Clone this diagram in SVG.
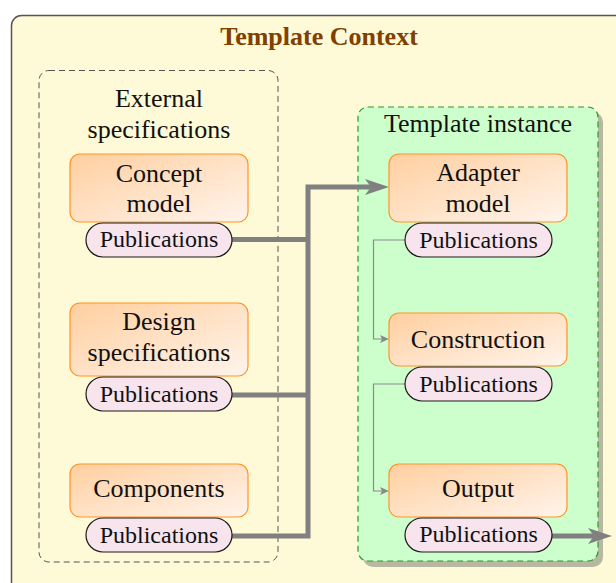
<svg xmlns="http://www.w3.org/2000/svg" width="616" height="583" viewBox="0 0 616 583">
<style>
text{font-family:"Liberation Serif","Times New Roman",serif;fill:#111;text-anchor:middle}
.lbl{font-size:26px}
.pub{font-size:24px}
.title{font-size:26px;font-weight:bold;fill:#7f4000}
.box{fill:url(#og);stroke:#ff9326;stroke-width:1.2}
.pill{fill:#f8e4ec;stroke:#1a1a1a;stroke-width:1.2}
.thick{fill:none;stroke:#808080;stroke-width:5}
.thin{fill:none;stroke:#8a8a8a;stroke-width:1.2}
</style>
<defs>
<linearGradient id="og" x1="0" y1="0" x2="1" y2="1">
<stop offset="0" stop-color="#ffcf9f"/>
<stop offset="1" stop-color="#fff4ec"/>
</linearGradient>
<marker id="ah" viewBox="0 0 24 16" markerWidth="24" markerHeight="16" refX="6" refY="8" markerUnits="userSpaceOnUse" orient="auto">
<path d="M0,0 L24,8 L0,16 L6,8 Z" fill="#808080"/>
</marker>
<marker id="as" viewBox="0 0 9 8" markerWidth="9" markerHeight="8" refX="2" refY="4" markerUnits="userSpaceOnUse" orient="auto">
<path d="M0,0 L9,4 L0,8 L2,4 Z" fill="#8a8a8a"/>
</marker>
</defs>
<rect x="0" y="0" width="616" height="583" fill="#ffffff"/>
<g id="context">
<rect x="11.5" y="15.5" width="620" height="590" rx="10" fill="#fef9d6" stroke="#555" stroke-width="1.5"/>
<text class="title" x="319" y="45">Template Context</text>
</g>
<g id="external">
<rect x="39" y="70.5" width="239" height="491.5" rx="10" fill="none" stroke="#555" stroke-width="1" stroke-dasharray="6,4"/>
<text class="lbl" x="159" y="107">External</text>
<text class="lbl" x="159" y="138">specifications</text>
</g>
<g id="instance">
<rect x="363" y="112" width="240" height="455" rx="10" fill="#b8b8a2"/>
<rect x="358" y="107" width="240" height="454" rx="10" fill="#ccffcc" stroke="#2a9a2a" stroke-width="1.2" stroke-dasharray="6,4"/>
<text class="lbl" x="478" y="132">Template instance</text>
</g>
<g id="connectors">
<path class="thick" d="M232,536 H308 V187 H371" marker-end="url(#ah)"/>
<path class="thick" d="M232,239.5 H308"/>
<path class="thick" d="M232,395 H308"/>
<path class="thick" d="M551,536 H594" marker-end="url(#ah)"/>
<path class="thin" d="M405,240 H373.5 V339 H382" marker-end="url(#as)"/>
<path class="thin" d="M405,384 H373.5 V491 H382" marker-end="url(#as)"/>
</g>
<g id="concept">
<rect class="box" x="70" y="154" width="178" height="68" rx="10"/>
<text class="lbl" x="159" y="182">Concept</text>
<text class="lbl" x="159" y="212">model</text>
</g>
<g id="concept-pub">
<rect class="pill" x="86" y="223" width="146" height="34" rx="17"/>
<text class="pub" x="159" y="247">Publications</text>
</g>
<g id="design">
<rect class="box" x="70" y="303" width="178" height="73" rx="10"/>
<text class="lbl" x="159" y="330">Design</text>
<text class="lbl" x="159" y="361">specifications</text>
</g>
<g id="design-pub">
<rect class="pill" x="86" y="377" width="146" height="34" rx="17"/>
<text class="pub" x="159" y="402">Publications</text>
</g>
<g id="components">
<rect class="box" x="70" y="464" width="178" height="53" rx="10"/>
<text class="lbl" x="159" y="497">Components</text>
</g>
<g id="components-pub">
<rect class="pill" x="86" y="518" width="146" height="34" rx="17"/>
<text class="pub" x="159" y="543">Publications</text>
</g>
<g id="adapter">
<rect class="box" x="389" y="154" width="178" height="68" rx="10"/>
<text class="lbl" x="478" y="181">Adapter</text>
<text class="lbl" x="478" y="212">model</text>
</g>
<g id="adapter-pub">
<rect class="pill" x="405" y="223" width="147" height="34" rx="17"/>
<text class="pub" x="478.5" y="248">Publications</text>
</g>
<g id="construction">
<rect class="box" x="389" y="313" width="178" height="53" rx="10"/>
<text class="lbl" x="478" y="348">Construction</text>
</g>
<g id="construction-pub">
<rect class="pill" x="405" y="367" width="147" height="34" rx="17"/>
<text class="pub" x="478.5" y="392">Publications</text>
</g>
<g id="output">
<rect class="box" x="389" y="464" width="178" height="53" rx="10"/>
<text class="lbl" x="478" y="497">Output</text>
</g>
<g id="output-pub">
<rect class="pill" x="405" y="518" width="147" height="34" rx="17"/>
<text class="pub" x="478.5" y="542">Publications</text>
</g>
</svg>
